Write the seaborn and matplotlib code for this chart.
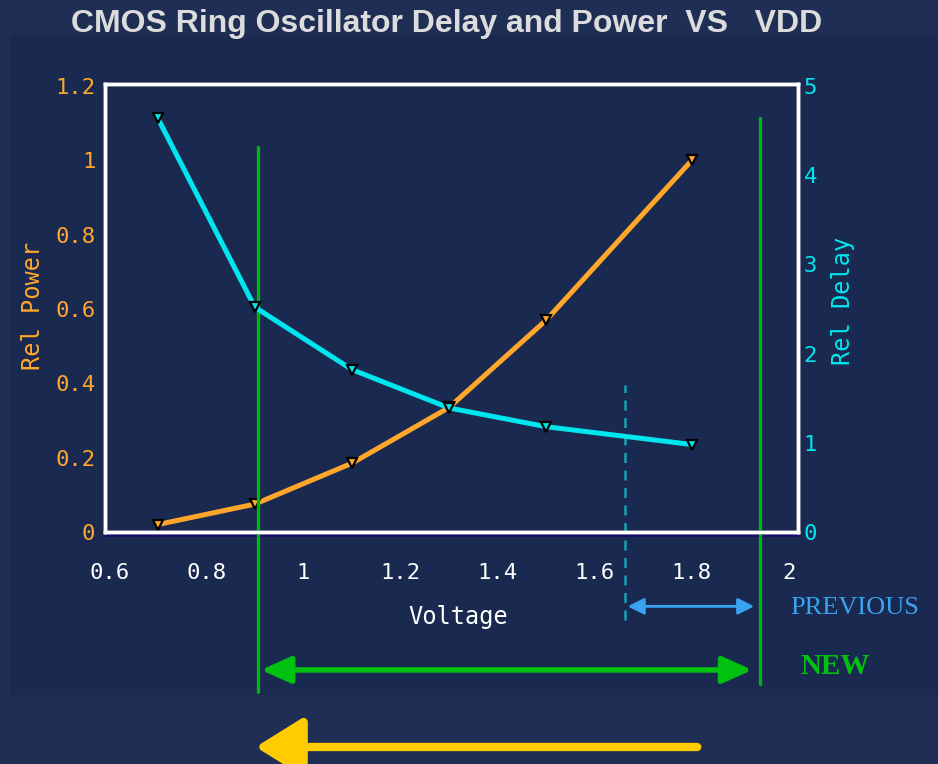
import numpy as np
import pandas as pd
import seaborn as sns
import matplotlib.pyplot as plt
from matplotlib.patches import Rectangle, FancyArrowPatch
from matplotlib.transforms import IdentityTransform

# values
voltage = [0.7, 0.9, 1.1, 1.3, 1.5, 1.8]
rel_power = [0.02, 0.075, 0.185, 0.335, 0.57, 1.0]
rel_delay = [4.64, 2.52, 1.82, 1.39, 1.18, 0.98]
x_ticks = [0.6, 0.8, 1.0, 1.2, 1.4, 1.6, 1.8, 2.0]
x_tick_labels = ["0.6", "0.8", "1", "1.2", "1.4", "1.6", "1.8", "2"]
power_ticks = [0, 0.2, 0.4, 0.6, 0.8, 1.0, 1.2]
power_tick_labels = ["0", "0.2", "0.4", "0.6", "0.8", "1", "1.2"]
delay_ticks = [0, 1, 2, 3, 4, 5]
new_range = [0.907, 1.94]
previous_range = [1.668, 1.934]

df = pd.DataFrame({"Voltage": voltage, "Rel Power": rel_power, "Rel Delay": rel_delay})

sns.set_style("dark")
plt.rcParams["font.family"] = ["DejaVu Sans Mono", "DejaVu Sans"]

outer = "#1f2e54"
panel = "#1a2950"
orange = "#ffa62b"
cyan = "#00e6ee"
green = "#00b414"
blue = "#3aa3f0"

fig = plt.figure(figsize=(9.38, 7.64), dpi=100, facecolor=outer)
fig.patches.append(Rectangle((10 / 938, 69 / 764), 1, 660 / 764, transform=fig.transFigure,
                             facecolor=panel, edgecolor="none", zorder=-5))

ax = fig.add_axes([105 / 938, 232 / 764, 693 / 938, 448 / 764])
ax.set_facecolor(panel)
ax2 = ax.twinx()

sns.lineplot(data=df, x="Voltage", y="Rel Power", ax=ax, color=orange, lw=3.6,
             marker="v", markersize=7.5, markerfacecolor=orange, markeredgecolor="black",
             markeredgewidth=1.6, zorder=3)
sns.lineplot(data=df, x="Voltage", y="Rel Delay", ax=ax2, color=cyan, lw=3.6,
             marker="v", markersize=7.5, markerfacecolor=cyan, markeredgecolor="black",
             markeredgewidth=1.6, zorder=3)

ax.set_xlim(0.5916, 2.0184)
ax.set_ylim(0, 1.205)
ax2.set_ylim(0, 5.02)
ax.set_xticks(x_ticks, x_tick_labels)
ax.set_yticks(power_ticks, power_tick_labels)
ax2.set_yticks(delay_ticks, [str(t) for t in delay_ticks])
ax.tick_params(axis="x", colors="white", labelsize=16, length=0, pad=22)
ax.tick_params(axis="y", colors=orange, labelsize=16, length=0, pad=7)
ax2.tick_params(axis="y", colors=cyan, labelsize=16, length=0, pad=4)
ax.grid(False)
ax2.grid(False)

for a in (ax, ax2):
    for s in a.spines.values():
        s.set_color("white")
        s.set_linewidth(2.5)
        s.set_visible(True)
# thin dark line just under the bottom frame
ax.plot([0, 1], [-0.007, -0.007], transform=ax.transAxes, color="#1a0a6e", lw=2,
        clip_on=False, zorder=1)

ax.set_xlabel("Voltage", color="white", fontsize=17, va="center")
ax.xaxis.set_label_coords(0.509, -0.19)
ax.set_ylabel("Rel Power", color=orange, fontsize=17, va="center")
ax.yaxis.set_label_coords(-0.104, 0.505)
ax2.set_ylabel("Rel Delay", color=cyan, fontsize=17, va="center")
ax2.yaxis.set_label_coords(1.065, 0.515)

# voltage range markers, drawn past the axes box
ax.plot([new_range[0]] * 2, [-0.43, 1.036], color=green, lw=2.4, clip_on=False, zorder=4)
ax.plot([new_range[1]] * 2, [-0.41, 1.114], color=green, lw=2.4, clip_on=False, zorder=4)
ax.plot([previous_range[0] - 0.006] * 2, [-0.237, 0.395], color="#1a9fb5", lw=1.8,
        ls=(0, (4, 3)), clip_on=False, zorder=2)

prev_arrow = FancyArrowPatch((previous_range[0] - 0.006, -0.2), (previous_range[1], -0.2),
                             arrowstyle="<|-|>,head_length=0.7,head_width=0.35",
                             mutation_scale=14, color=blue, lw=2, clip_on=False)
ax.add_patch(prev_arrow)
new_arrow = FancyArrowPatch((new_range[0], -0.371), (new_range[1] - 0.01, -0.371),
                            arrowstyle="<|-|>,head_length=1.0,head_width=0.45",
                            mutation_scale=18, color="#00c010", lw=4, clip_on=False)
ax.add_patch(new_arrow)

fig.text(855 / 938, 1 - 608 / 764, "PREVIOUS", color=blue, fontsize=19,
         family="Liberation Serif", ha="center", va="center")
fig.text(835 / 938, 1 - 667 / 764, "NEW", color="#00c010", fontsize=21,
         family="Liberation Serif", weight="bold", ha="center", va="center")

fig.text(447 / 938, 1 - 24 / 764, "CMOS Ring Oscillator Delay and Power  VS   VDD",
         color="#dcdcdc", fontsize=23, family="Liberation Sans", weight="bold",
         ha="center", va="center")

# yellow arrow pointing left under the chart
yellow = FancyArrowPatch((700, 17), (253, 17), transform=IdentityTransform(),
                         arrowstyle="-|>,head_length=1.6,head_width=1.0",
                         mutation_scale=18, color="#ffcc00", lw=6, capstyle="round")
fig.patches.append(yellow)

fig.savefig("out.png", dpi=100, facecolor=outer)
